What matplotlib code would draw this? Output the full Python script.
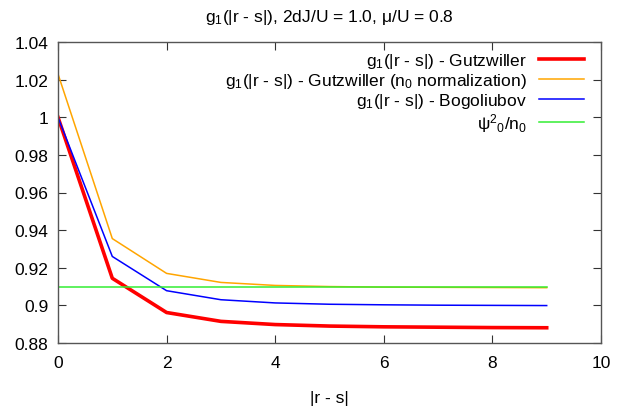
import matplotlib
matplotlib.use("Agg")
import matplotlib.pyplot as plt
from matplotlib.ticker import FormatStrFormatter

plt.rcParams['font.family'] = ['Liberation Sans', 'DejaVu Sans']
plt.rcParams['mathtext.fontset'] = 'custom'
plt.rcParams['mathtext.rm'] = 'Liberation Sans'
plt.rcParams['mathtext.it'] = 'Liberation Sans'
plt.rcParams['mathtext.default'] = 'regular'

dist = [0, 1, 2, 3, 4, 5, 6, 7, 8, 9]
g1_gutz = [1.0, 0.9144, 0.8962, 0.8915, 0.8898, 0.8890, 0.8886, 0.8884, 0.8882, 0.8881]
g1_gutz_n0 = [1.023, 0.9355, 0.9170, 0.9122, 0.9106, 0.9100, 0.9097, 0.9096, 0.9095, 0.9094]
g1_bogo = [1.0, 0.9260, 0.9078, 0.9030, 0.9013, 0.9006, 0.9003, 0.9001, 0.9000, 0.8999]
psi_ratio = [0.9100] * 10

fs = 12.5
fig = plt.figure(figsize=(6.26, 4.10), dpi=100)
ax = fig.add_axes([58/626, 66/410, 543/626, 301/410])

ax.plot(dist, g1_gutz, color='#ff0000', lw=2.6, label=r'g$_1$(|r - s|) - Gutzwiller')
ax.plot(dist, g1_gutz_n0, color='#ffa500', lw=1.1, label=r'g$_1$(|r - s|) - Gutzwiller (n$_0$ normalization)')
ax.plot(dist, g1_bogo, color='#0000ff', lw=1.1, label=r'g$_1$(|r - s|) - Bogoliubov')
ax.plot(dist, psi_ratio, color='#33ee33', lw=1.1, label=r'ψ$^2{}_0$/n$_0$')

ax.set_xlim(0, 10)
ax.set_ylim(0.88, 1.04)
ax.set_xticks(range(0, 11, 2))
ax.set_yticks([0.88, 0.90, 0.92, 0.94, 0.96, 0.98, 1.00, 1.02, 1.04])
ax.yaxis.set_major_formatter(FormatStrFormatter('%g'))
ax.tick_params(direction='in', top=True, right=True, labelsize=fs, length=6, width=0.8,
               color='#333333')
ax.tick_params(axis='x', pad=9)
ax.tick_params(axis='y', pad=7)
for s in ax.spines.values():
    s.set_linewidth(1)
    s.set_color('#555555')
ax.set_xlabel('|r - s|', fontsize=fs, labelpad=14)
ax.set_title(r'g$_1$(|r - s|), 2dJ/U = 1.0, μ/U = 0.8', fontsize=fs, pad=15)

ax.legend(loc='upper right', bbox_to_anchor=(1.0, 1.0 + 8/301), frameon=False,
          markerfirst=False, fontsize=fs, handlelength=2.6, labelspacing=0.05,
          borderaxespad=0.6, handletextpad=0.65)

fig.savefig('out.png', dpi=100)
